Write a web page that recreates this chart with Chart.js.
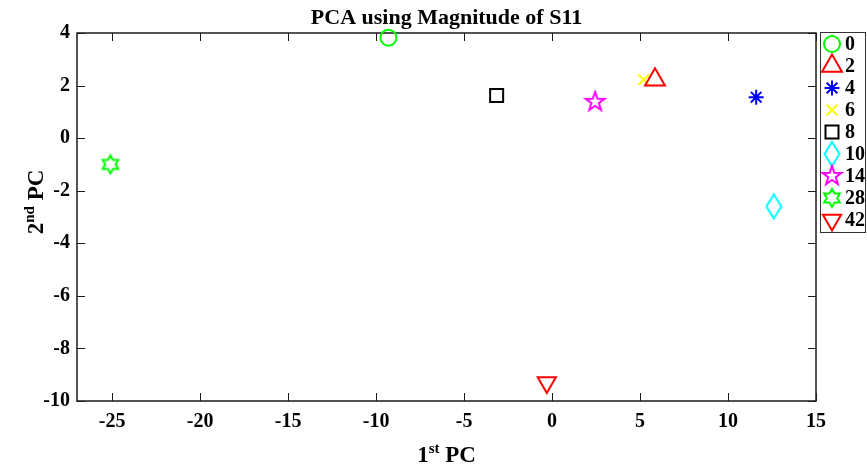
<!DOCTYPE html>
<html>
<head>
<meta charset="utf-8">
<script src="https://cdn.jsdelivr.net/npm/chart.js@4"></script>
<style>
  html, body { margin: 0; padding: 0; background: #fff; }
</style>
</head>
<body>
<canvas id="pcaChart" width="867" height="468"></canvas>
<script>
// sample groups and their first two principal components
const groups = ['0', '2', '4', '6', '8', '10', '14', '28', '42'];
const pc1 = [-9.3, 5.85, 11.6, 5.2, -3.15, 12.6, 2.45, -25.1, -0.3];
const pc2 = [3.82, 2.22, 1.56, 2.22, 1.62, -2.6, 1.38, -1.0, -9.3];
const xTicks = [-25, -20, -15, -10, -5, 0, 5, 10, 15];
const yTicks = [-10, -8, -6, -4, -2, 0, 2, 4];
const colors = ['#00ff00', '#ff0000', '#0000ff', '#ffff00', '#000000', '#00ffff', '#ff00ff', '#00ff00', '#ff0000'];

const FONT = "'Liberation Serif', 'Times New Roman', serif";

// custom outline markers (matlab style pentagram / hexagram / diamond)
function marker(w, h, color, path) {
    const c = document.createElement('canvas');
    c.width = w; c.height = h;
    const g = c.getContext('2d');
    g.strokeStyle = color;
    g.lineWidth = 2;
    g.lineJoin = 'miter';
    g.beginPath();
    path(g, w / 2, h / 2);
    g.closePath();
    g.stroke();
    return c;
}
function starPath(n, R, r) {
    return (g, cx, cy) => {
        for (let i = 0; i < n * 2; i++) {
            const a = -Math.PI / 2 + i * Math.PI / n;
            const rr = i % 2 === 0 ? R : r;
            const px = cx + Math.cos(a) * rr, py = cy + Math.sin(a) * rr;
            i === 0 ? g.moveTo(px, py) : g.lineTo(px, py);
        }
    };
}
const pentagram = marker(24, 24, '#ff00ff', starPath(5, 10, 4));
const hexagram = marker(22, 22, '#00ff00', starPath(6, 9, 5.2));
const diamond = marker(18, 28, '#00ffff', (g, cx, cy) => {
    g.moveTo(cx, cy - 12); g.lineTo(cx + 7.5, cy); g.lineTo(cx, cy + 12); g.lineTo(cx - 7.5, cy);
});

const styles = ['circle', 'triangle', 'star', 'crossRot', 'rect', diamond, pentagram, hexagram, 'triangle'];
const radii = [8, 11.5, 7.5, 7.5, 9.2, 8, 8, 8, 10.5];
const rotations = [0, 0, 0, 0, 0, 0, 0, 0, 180];

const datasets = groups.map((g, i) => ({
    label: g,
    data: [{ x: pc1[i], y: pc2[i] }],
    pointStyle: styles[i],
    pointRadius: radii[i],
    pointRotation: rotations[i],
    borderColor: colors[i],
    backgroundColor: 'rgba(0,0,0,0)',
    pointBorderWidth: 2,
    clip: false
}));

function drawMarker(ctx, i, x, y) {
    ctx.lineWidth = 2;
    Chart.helpers.drawPoint(ctx, {
        pointStyle: styles[i], radius: radii[i], rotation: rotations[i], borderWidth: 2
    }, x, y);
}

// text with superscript piece, e.g. 1st PC
function supText(ctx, base, sup, rest, size) {
    const big = 'bold ' + size + 'px ' + FONT;
    const small = 'bold ' + Math.round(size * 0.65) + 'px ' + FONT;
    ctx.font = big; const w1 = ctx.measureText(base).width; const w3 = ctx.measureText(rest).width;
    ctx.font = small; const w2 = ctx.measureText(sup).width;
    let x = -(w1 + w2 + w3) / 2;
    ctx.textAlign = 'left';
    ctx.textBaseline = 'alphabetic';
    ctx.font = big; ctx.fillText(base, x, 0); x += w1;
    ctx.font = small; ctx.fillText(sup, x, -size * 0.4); x += w2;
    ctx.font = big; ctx.fillText(rest, x, 0);
}

const frame = {
    id: 'frame',
    beforeDatasetsDraw(chart) {
        const { ctx, chartArea: a, scales } = chart;
        ctx.save();
        ctx.strokeStyle = '#1a1a1a';
        ctx.lineWidth = 1.5;
        ctx.strokeRect(a.left, a.top, a.right - a.left, a.bottom - a.top);
        ctx.beginPath();
        xTicks.forEach(v => {
            const p = Math.round(scales.x.getPixelForValue(v)) + 0.5;
            ctx.moveTo(p, a.bottom); ctx.lineTo(p, a.bottom - 8);
            ctx.moveTo(p, a.top); ctx.lineTo(p, a.top + 8);
        });
        yTicks.forEach(v => {
            const p = Math.round(scales.y.getPixelForValue(v)) + 0.5;
            ctx.moveTo(a.left, p); ctx.lineTo(a.left + 8, p);
            ctx.moveTo(a.right, p); ctx.lineTo(a.right - 8, p);
        });
        ctx.lineWidth = 1;
        ctx.stroke();
        ctx.restore();
    },
    afterDraw(chart) {
        const { ctx, chartArea: a } = chart;
        const cx = (a.left + a.right) / 2;
        ctx.save();
        ctx.fillStyle = '#000';
        ctx.font = 'bold 22px ' + FONT;
        ctx.textAlign = 'center';
        ctx.textBaseline = 'alphabetic';
        ctx.fillText('PCA using Magnitude of S11', cx, 24);

        ctx.save();
        ctx.translate(cx, 462);
        supText(ctx, '1', 'st', ' PC', 23);
        ctx.restore();

        ctx.save();
        ctx.translate(43, 202);
        ctx.rotate(-Math.PI / 2);
        supText(ctx, '2', 'nd', ' PC', 23);
        ctx.restore();

        // legend box
        ctx.strokeStyle = '#333';
        ctx.lineWidth = 1;
        ctx.strokeRect(820.5, 32.5, 45, 200);
        ctx.font = 'bold 20px ' + FONT;
        ctx.textAlign = 'left';
        ctx.textBaseline = 'middle';
        groups.forEach((g, i) => {
            const y = 44 + i * 22;
            ctx.strokeStyle = colors[i];
            ctx.fillStyle = 'rgba(0,0,0,0)';
            drawMarker(ctx, i, 832, y);
            ctx.fillStyle = '#000';
            ctx.fillText(g, 845, y + 1);
        });
        ctx.restore();
    }
};

const tickFont = { family: FONT, size: 20, weight: 'bold' };

new Chart(document.getElementById('pcaChart'), {
    type: 'scatter',
    data: { datasets },
    options: {
        responsive: false,
        animation: false,
        layout: { padding: { top: 33, right: 51, left: 0, bottom: 0 } },
        plugins: { legend: { display: false }, tooltip: { enabled: false } },
        scales: {
            x: {
                type: 'linear', min: -27, max: 15,
                afterBuildTicks: s => { s.ticks = xTicks.map(v => ({ value: v })); },
                afterFit: s => { s.height = 67; },
                ticks: { font: tickFont, color: '#000', padding: 9, maxRotation: 0 },
                grid: { display: false, drawTicks: false },
                border: { display: false }
            },
            y: {
                type: 'linear', min: -10, max: 4,
                afterBuildTicks: s => { s.ticks = yTicks.map(v => ({ value: v })); },
                afterFit: s => { s.width = 77; },
                ticks: { font: tickFont, color: '#000', padding: 7 },
                grid: { display: false, drawTicks: false },
                border: { display: false }
            }
        }
    },
    plugins: [frame]
});
</script>
</body>
</html>
